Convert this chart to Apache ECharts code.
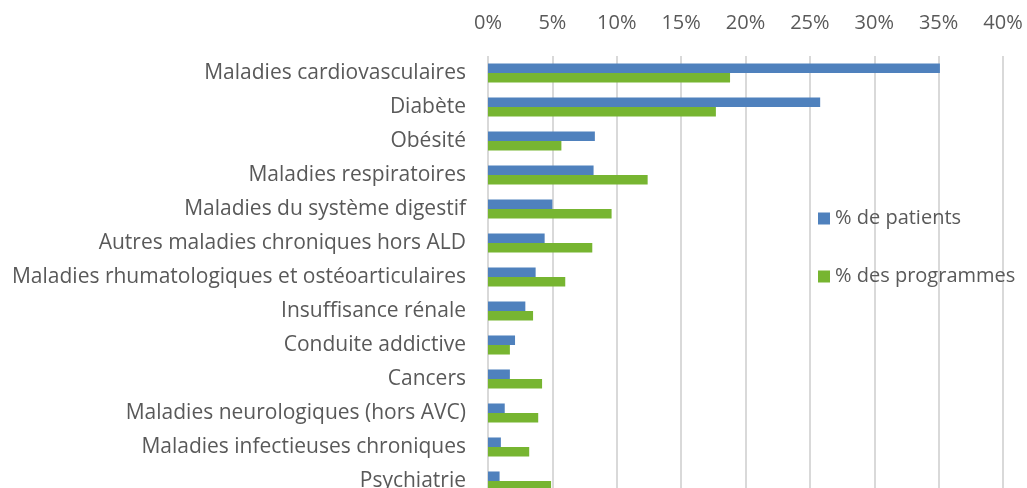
<!DOCTYPE html>
<html>
	<head>
		<meta charset="UTF-8">
		<title></title>
		<script src="https://cdn.jsdelivr.net/npm/echarts@6/dist/echarts.min.js"></script>
		<style>
			body{margin:0;background:#fff;}
		</style>
	</head>
	<body>
		<div id="chart" style="width: 1027px;height: 488px;"></div>
		<script type="text/javascript">
			var categories = ['Maladies cardiovasculaires', 'Diabète', 'Obésité', 'Maladies respiratoires',
				'Maladies du système digestif', 'Autres maladies chroniques hors ALD',
				'Maladies rhumatologiques et ostéoarticulaires', 'Insuffisance rénale', 'Conduite addictive',
				'Cancers', 'Maladies neurologiques (hors AVC)', 'Maladies infectieuses chroniques', 'Psychiatrie'];
			var patients = [35.1, 25.8, 8.3, 8.2, 5.0, 4.4, 3.7, 2.9, 2.1, 1.7, 1.3, 1.0, 0.9];
			var programmes = [18.8, 17.7, 5.7, 12.4, 9.6, 8.1, 6.0, 3.5, 1.7, 4.2, 3.9, 3.2, 4.9];
			var seriesNames = ['% de patients', '% des programmes'];

			var myChart = echarts.init(document.getElementById('chart'));
			var txt = '#595959';
			var option = {
				color: ['#4F81BD', '#77B531'],
				textStyle: {fontFamily: 'Open Sans'},
				grid: {left: 488, right: 24, top: 56, height: 442, outerBoundsMode: 'none'},
				legend: {
					orient: 'vertical',
					left: 813,
					top: 202,
					itemWidth: 12,
					itemHeight: 12,
					itemGap: 35,
					icon: 'rect',
					textStyle: {color: txt, fontSize: 20, fontFamily: 'Open Sans', lineHeight: 23},
					data: seriesNames
				},
				xAxis: {
					type: 'value',
					position: 'top',
					min: 0,
					max: 40,
					interval: 5,
					axisLine: {show: false},
					axisTick: {show: false},
					axisLabel: {formatter: '{value}%', color: txt, fontSize: 20, margin: 23},
					splitLine: {lineStyle: {color: '#d9d9d9', width: 2}}
				},
				yAxis: {
					type: 'category',
					inverse: true,
					data: categories,
					axisLine: {show: false},
					axisTick: {show: false},
					axisLabel: {color: txt, fontSize: 21, margin: 22}
				},
				series: [
					{name: seriesNames[0], type: 'bar', data: patients, barGap: 0, barCategoryGap: '44%'},
					{name: seriesNames[1], type: 'bar', data: programmes, barGap: 0, barCategoryGap: '44%'}
				]
			};
			myChart.setOption(option);
		</script>
	</body>
</html>
